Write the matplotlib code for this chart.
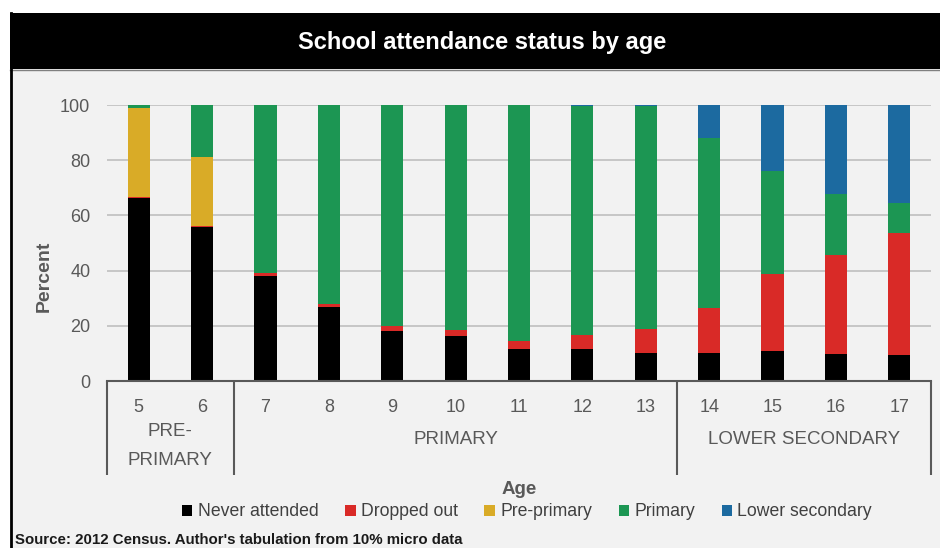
import matplotlib
matplotlib.use("Agg")
import matplotlib.pyplot as plt
import matplotlib.transforms as mtransforms
from matplotlib.patches import Rectangle, Patch
from matplotlib import font_manager
import numpy as np

# ---- data -------------------------------------------------------------
ages = ["5", "6", "7", "8", "9", "10", "11", "12", "13", "14", "15", "16", "17"]
never_attended = [66.4, 55.9, 38.0, 26.8, 18.2, 16.4, 11.6, 11.6, 10.0, 10.0, 10.9, 9.7, 9.3]
dropped_out = [0.4, 0.4, 1.1, 1.2, 1.8, 2.2, 2.9, 5.1, 9.0, 16.6, 28.0, 36.1, 44.3]
pre_primary = [32.0, 24.9, 0, 0, 0, 0, 0, 0, 0, 0, 0, 0, 0]
primary = [1.2, 18.8, 60.9, 72.0, 80.0, 81.4, 85.5, 83.0, 80.7, 61.3, 37.1, 22.0, 10.9]
lower_secondary = [0, 0, 0, 0, 0, 0, 0, 0.3, 0.3, 12.1, 24.0, 32.2, 35.5]

series_names = ["Never attended", "Dropped out", "Pre-primary", "Primary", "Lower secondary"]
series_values = [never_attended, dropped_out, pre_primary, primary, lower_secondary]
series_colors = ["#000000", "#d92a27", "#d9ab27", "#1c9653", "#1c6aa0"]

groups = ["PRE-\nPRIMARY", "PRIMARY", "LOWER SECONDARY"]
group_bounds = [(-0.5, 1.5), (1.5, 8.5), (8.5, 12.5)]

title = "School attendance status by age"
source = "Source: 2012 Census. Author's tabulation from 10% micro data"


def pick(*names):
    avail = {f.name for f in font_manager.fontManager.ttflist}
    return [n for n in names if n in avail] + ["DejaVu Sans"]


regular = pick("Liberation Sans")

W, H = 940, 548
fig = plt.figure(figsize=(W / 100, H / 100), dpi=100, facecolor="white")

# frame: grey panel, black title band, left border line
fig.patches.append(Rectangle((10 / W, 0), 1 - 10 / W, 1 - 13 / H, transform=fig.transFigure,
                             facecolor="#f2f2f2", edgecolor="none", zorder=-3))
fig.patches.append(Rectangle((10 / W, 1 - 69 / H), 1 - 10 / W, 56 / H, transform=fig.transFigure,
                             facecolor="#000000", edgecolor="none", zorder=-2))
fig.lines.append(plt.Line2D([10 / W, 1], [1 - 69.5 / H] * 2, transform=fig.transFigure,
                            color="#808080", lw=1))
fig.lines.append(plt.Line2D([11 / W, 11 / W], [0, 1 - 13 / H], transform=fig.transFigure,
                            color="#000000", lw=2))
fig.text(482 / W, 1 - 42 / H, title, color="white", fontsize=17, fontweight="bold",
         family=regular, ha="center", va="center")

ax = fig.add_axes([107 / W, 1 - 381 / H, 824 / W, 276 / H])
ax.set_facecolor("none")

x = np.arange(len(ages))
bottom = np.zeros(len(ages))
for name, vals, col in zip(series_names, series_values, series_colors):
    v = np.array(vals, dtype=float)
    ax.bar(x, v, width=0.35, bottom=bottom, color=col, label=name, zorder=3,
           edgecolor="none")
    bottom += v

ax.set_xlim(-0.5, len(ages) - 0.5)
ax.set_ylim(0, 100)
ax.set_yticks([0, 20, 40, 60, 80, 100])
ax.yaxis.grid(True, color="#bfbfbf", lw=1.2, zorder=0)
ax.tick_params(axis="y", length=0, pad=12, labelsize=13, labelcolor="#595959")
for lbl in ax.get_yticklabels():
    lbl.set_family(regular)
ax.set_xticks([])
for s in ["top", "right", "left"]:
    ax.spines[s].set_visible(False)
ax.spines["bottom"].set_color("#595959")
ax.spines["bottom"].set_linewidth(1.5)
ax.spines["bottom"].set_zorder(4)

trans = mtransforms.blended_transform_factory(ax.transData, ax.transAxes)
px = 1 / 276  # one pixel in axes fraction (vertical)

# age labels
for xi, a in zip(x, ages):
    ax.text(xi, -26 * px, a, transform=trans, ha="center", va="center",
            fontsize=13, color="#595959", family=regular)

# group separators and labels
edges = sorted({b for pair in group_bounds for b in pair})
for e in edges:
    ax.plot([e, e], [0, -94 * px], transform=trans, color="#595959", lw=1.5,
            clip_on=False, solid_capstyle="butt")
for g, (lo, hi) in zip(groups, group_bounds):
    yy = -65 * px if "\n" in g else -59 * px
    ax.text((lo + hi) / 2, yy, g, transform=trans, ha="center", va="center",
            fontsize=13.5, color="#595959", family=regular, linespacing=1.85)

ax.set_ylabel("Percent", fontsize=14, fontweight="bold", color="#595959",
              family=regular)
ax.yaxis.set_label_coords(-54 / 824, 105 / 276)
fig.text(519 / W, 1 - 490 / H, "Age", fontsize=13.5, fontweight="bold",
         color="#595959", family=regular, ha="center", va="center")

handles = [Patch(facecolor=c, edgecolor="none") for c in series_colors]
fig.legend(handles, series_names, loc="center", bbox_to_anchor=(527 / W, 1 - 512 / H),
           ncol=5, frameon=False, handlelength=0.6, handleheight=0.6, handletextpad=0.3,
           columnspacing=1.5, prop={"family": regular, "size": 12.7},
           labelcolor="#404040")

fig.text(15 / W, 1 - 540 / H, source, fontsize=10.8, fontweight="bold", color="#1a1a1a",
         family=regular, ha="left", va="center")

fig.savefig("out.png", dpi=100, facecolor=fig.get_facecolor())
